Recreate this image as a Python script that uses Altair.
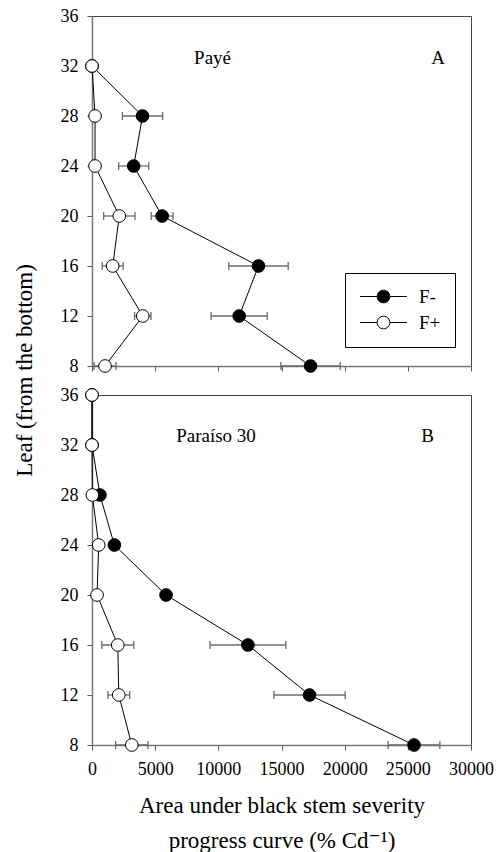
import altair as alt
import pandas as pd

# ---------------- data ----------------
series = ["F-", "F+"]

# Panel A (Payé)
leaf_a = [8, 12, 16, 20, 24, 28, 32]
a_fminus = [17300, 11650, 13180, 5550, 3300, 4000, 0]
a_fminus_err = [2350, 2220, 2350, 860, 1190, 1590, 0]
a_fplus = [1030, 4020, 1640, 2160, 240, 240, 0]
a_fplus_err = [870, 650, 830, 1240, 0, 0, 0]

# Panel B (Paraíso 30)
leaf_b = [8, 12, 16, 20, 24, 28, 32, 36]
b_fminus = [25490, 17220, 12340, 5860, 1770, 630, 0, 0]
b_fminus_err = [2045, 2820, 3000, 0, 350, 0, 0, 0]
b_fplus = [3150, 2120, 2040, 400, 530, 30, 0, 0]
b_fplus_err = [1280, 860, 1265, 0, 0, 0, 0, 0]

x_ticks = [0, 5000, 10000, 15000, 20000, 25000, 30000]
y_ticks = [8, 12, 16, 20, 24, 28, 32, 36]

# panel annotations: text, x, y, align
ann_a_text = ["Payé", "A"]
ann_a_x = [8080, 27390]
ann_a_y = [32.2, 32.2]
ann_a_align = ["left", "center"]

ann_b_text = ["Paraíso 30", "B"]
ann_b_x = [6660, 26560]
ann_b_y = [32.25, 32.25]
ann_b_align = ["left", "center"]

x_title = ["Area under black stem severity", "progress curve (% Cd\u207b\u00b9)"]
y_title = "Leaf (from the bottom)"

FONT = "Liberation Serif, Times New Roman, Times, DejaVu Serif, serif"


def make_df(leaves, fm, fm_err, fp, fp_err):
    rows = []
    for s, vals, errs in (("F-", fm, fm_err), ("F+", fp, fp_err)):
        for lf, v, e in zip(leaves, vals, errs):
            rows.append({"series": s, "leaf": lf, "value": v, "err": e,
                         "lo": v - e, "hi": v + e})
    return pd.DataFrame(rows)


def make_ann(texts, xs, ys, aligns):
    return pd.DataFrame({"label": texts, "x": xs, "y": ys, "align": aligns})


df_a = make_df(leaf_a, a_fminus, a_fminus_err, a_fplus, a_fplus_err)
df_b = make_df(leaf_b, b_fminus, b_fminus_err, b_fplus, b_fplus_err)
ann_a = make_ann(ann_a_text, ann_a_x, ann_a_y, ann_a_align)
ann_b = make_ann(ann_b_text, ann_b_x, ann_b_y, ann_b_align)

xscale = alt.Scale(domain=[0, 30000], nice=False, zero=False)
yscale = alt.Scale(domain=[8, 36], nice=False, zero=False)

LEGEND_SYMBOL = "M-3.7,0H-1M1,0H3.7M-1,0A1,1,0,1,1,1,0A1,1,0,1,1,-1,0Z"


def panel(df, ann, top):
    if top:
        xaxis = alt.Axis(values=x_ticks, labels=False, title="", grid=False)
        yaxis = alt.Axis(values=y_ticks, title=y_title, grid=False,
                         titleX=-68, titleY=354, titleAngle=270,
                         titleAlign="center", titleBaseline="middle")
        legend = alt.Legend(
            title=None, orient="none", legendX=253, legendY=257,
            symbolType=LEGEND_SYMBOL, symbolSize=160,
            symbolStrokeColor="black", symbolStrokeWidth=1,
            symbolOffset=15, labelOffset=26,
            labelFont=FONT, labelFontSize=19, labelColor="black",
            strokeColor="black", padding=14, rowPadding=6,
            fillColor="white",
        )
    else:
        xaxis = alt.Axis(values=x_ticks, title=x_title, grid=False, format="d",
                         labelOverlap=False, labelFlush=False, labelPadding=10,
                         titlePadding=16, titleLineHeight=35)
        yaxis = alt.Axis(values=y_ticks, title="", grid=False)
        legend = None

    X = lambda f: alt.X(f, type="quantitative", scale=xscale, axis=xaxis)
    Y = alt.Y("leaf:Q", scale=yscale, axis=yaxis)

    base = alt.Chart(df)
    errdf = base.transform_filter("datum.err > 0")
    err_rule = errdf.mark_rule(color="#6b6b6b", strokeWidth=1.3).encode(
        x=X("lo"), x2="hi:Q", y=Y)
    cap_lo = errdf.mark_tick(orient="vertical", size=8, thickness=1.3,
                             color="#6b6b6b", opacity=1).encode(x=X("lo"), y=Y)
    cap_hi = errdf.mark_tick(orient="vertical", size=8, thickness=1.3,
                             color="#6b6b6b", opacity=1).encode(x=X("hi"), y=Y)
    line = base.mark_line(color="black", strokeWidth=1, clip=False).encode(
        x=X("value"), y=Y, detail="series:N", order="leaf:Q")
    pts = base.mark_point(filled=True, shape="circle", size=160, stroke="black",
                          strokeWidth=1, opacity=1, fillOpacity=1, clip=False).encode(
        x=X("value"), y=Y,
        fill=alt.Fill("series:N",
                      scale=alt.Scale(domain=series, range=["black", "white"]),
                      legend=legend),
        order=alt.Order("series:N", sort="descending"),
    )
    layers = [err_rule, cap_lo, cap_hi, line, pts]
    for al in ("left", "center"):
        layers.append(
            alt.Chart(ann).transform_filter(alt.datum.align == al)
            .mark_text(font=FONT, fontSize=19, baseline="alphabetic",
                       color="black", align=al)
            .encode(
                x=alt.X("x:Q", scale=xscale, axis=xaxis),
                y=alt.Y("y:Q", scale=yscale, axis=yaxis),
                text="label:N",
            )
        )
    return alt.layer(*layers).properties(width=379, height=350)


top = panel(df_a, ann_a, True)
bottom = panel(df_b, ann_b, False)

chart = (
    alt.vconcat(top, bottom, spacing=29, bounds="flush")
    .resolve_scale(fill="independent")
    .resolve_legend(fill="independent")
    .properties(padding={"left": 12, "top": 6, "right": 5, "bottom": 5})
    .configure_view(stroke="#444", strokeWidth=1)
    .configure_axis(
        labelFont=FONT, labelFontSize=18, labelColor="black",
        titleFont=FONT, titleFontSize=23, titleColor="black", titleFontWeight="normal",
        domainColor="#777", domainWidth=1.5, tickColor="#555", tickSize=5,
        labelPadding=9,
    )
)

chart.save("out.html", embed_options={"renderer": "svg", "actions": False})
